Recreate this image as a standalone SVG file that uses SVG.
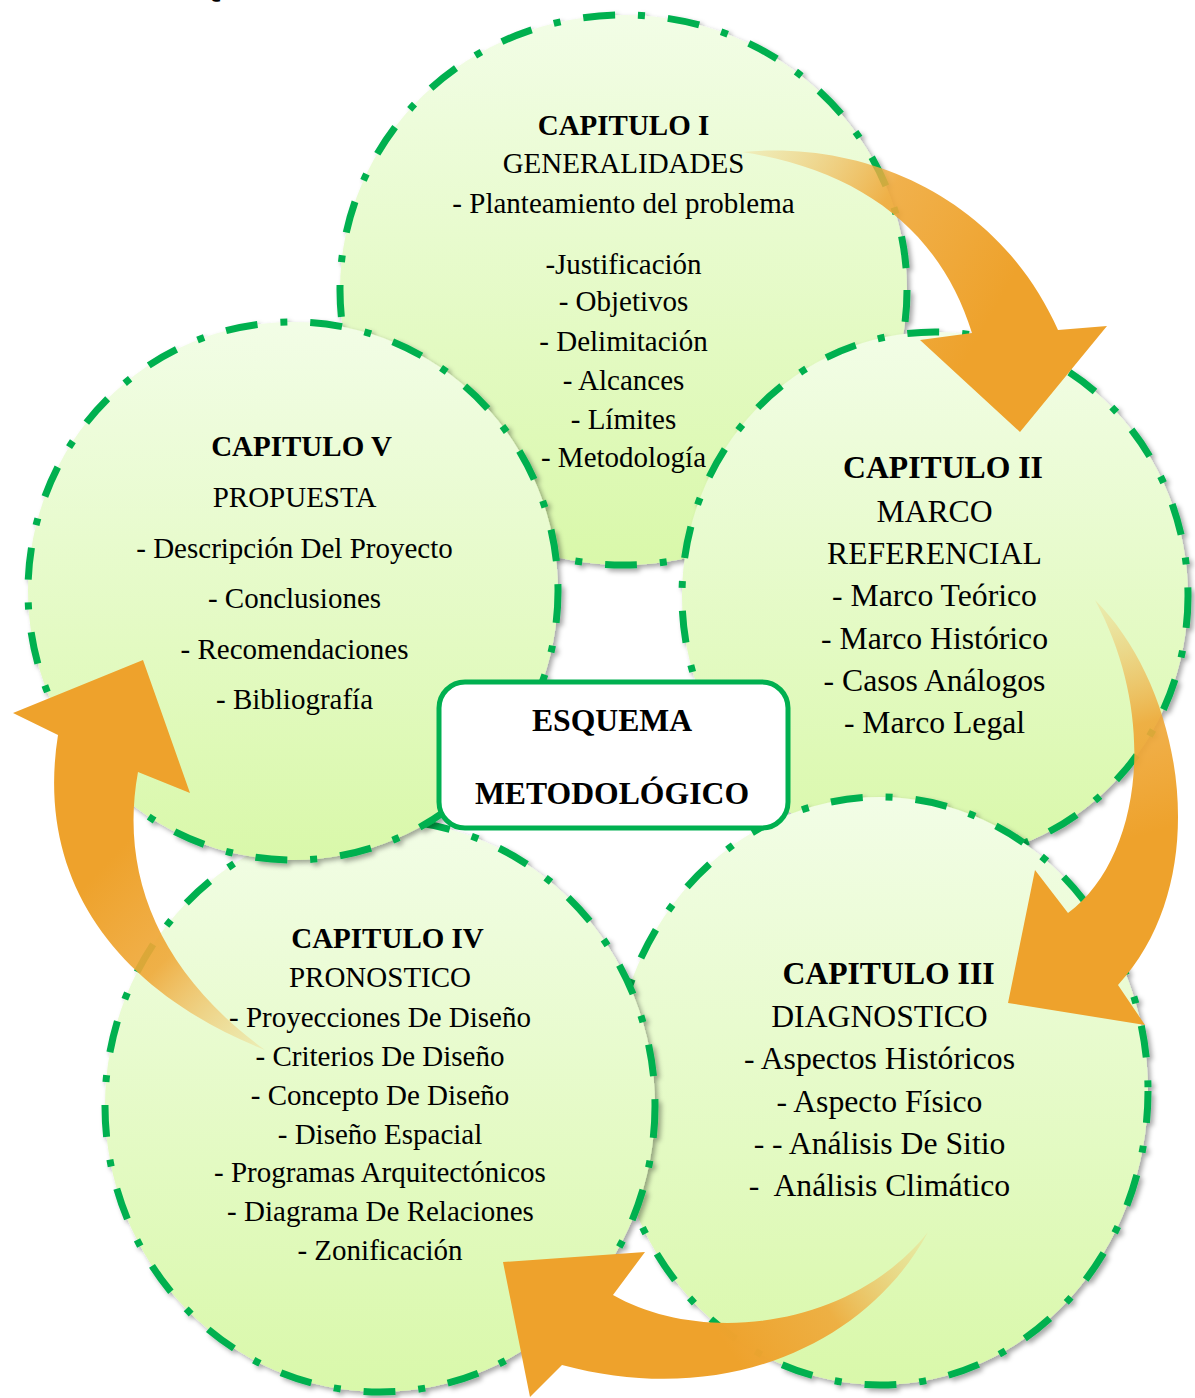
<svg xmlns="http://www.w3.org/2000/svg" width="1195" height="1398" viewBox="0 0 1195 1398">
<style>
.circ{fill:url(#cg);stroke:#00B050;stroke-width:7;stroke-dasharray:32 23 7 23;filter:url(#sh)}
.t{font-family:"Liberation Serif","Times New Roman",serif;fill:#000;text-anchor:middle}
.s29{font-size:29px}
.s32{font-size:31.7px}
.b{font-weight:bold}
.box{fill:#fff;stroke:#00B050;stroke-width:5}
</style>
<defs>
<linearGradient id="cg" x1="0" y1="0" x2="0" y2="1">
<stop offset="0" stop-color="#F2FDE6"/>
<stop offset="1" stop-color="#D9F8AA"/>
</linearGradient>
<filter id="sh" x="-10%" y="-10%" width="120%" height="120%">
<feDropShadow dx="3" dy="3" stdDeviation="2.5" flood-color="#000" flood-opacity="0.35"/>
</filter>
<linearGradient id="a1" gradientUnits="userSpaceOnUse" x1="742" y1="152" x2="1000" y2="300">
<stop offset="0" stop-color="#F3CE7C" stop-opacity="0.3"/>
<stop offset="0.5" stop-color="#EFA838" stop-opacity="0.9"/>
<stop offset="1" stop-color="#EEA22C"/>
</linearGradient>
<linearGradient id="a2" gradientUnits="userSpaceOnUse" x1="1095" y1="600" x2="1160" y2="830">
<stop offset="0" stop-color="#F3CE7C" stop-opacity="0.3"/>
<stop offset="0.55" stop-color="#EFA838" stop-opacity="0.9"/>
<stop offset="1" stop-color="#EEA22C"/>
</linearGradient>
<linearGradient id="a3" gradientUnits="userSpaceOnUse" x1="928" y1="1232" x2="740" y2="1365">
<stop offset="0" stop-color="#F3CE7C" stop-opacity="0.3"/>
<stop offset="0.55" stop-color="#EFA838" stop-opacity="0.9"/>
<stop offset="1" stop-color="#EEA22C"/>
</linearGradient>
<linearGradient id="a4" gradientUnits="userSpaceOnUse" x1="265" y1="1050" x2="90" y2="880">
<stop offset="0" stop-color="#F3CE7C" stop-opacity="0.3"/>
<stop offset="0.55" stop-color="#EFA838" stop-opacity="0.9"/>
<stop offset="1" stop-color="#EEA22C"/>
</linearGradient>
</defs>
<rect width="1195" height="1398" fill="#fff"/>
<text class="t b" x="198" y="-3" style="text-anchor:start;font-size:30px">Q</text>

<g id="cap1">
<ellipse class="circ" cx="623.5" cy="290" rx="283.5" ry="275"/>
<text class="t s29 b" x="623.5" y="135">CAPITULO I</text>
<text class="t s29" x="623.5" y="173">GENERALIDADES</text>
<text class="t s29" x="623.5" y="213">- Planteamiento del problema</text>
<text class="t s29" x="623.5" y="274">-Justificación</text>
<text class="t s29" x="623.5" y="311">- Objetivos</text>
<text class="t s29" x="623.5" y="351">- Delimitación</text>
<text class="t s29" x="623.5" y="390">- Alcances</text>
<text class="t s29" x="623.5" y="429">- Límites</text>
<text class="t s29" x="623.5" y="467">- Metodología</text>
</g>

<g id="cap2">
<ellipse class="circ" cx="935" cy="596" rx="253" ry="264"/>
<text class="t s32 b" x="943" y="478">CAPITULO II</text>
<text class="t s32" x="934.5" y="522">MARCO</text>
<text class="t s32" x="934.5" y="564">REFERENCIAL</text>
<text class="t s32" x="934.5" y="606">- Marco Teórico</text>
<text class="t s32" x="934.5" y="649">- Marco Histórico</text>
<text class="t s32" x="934.5" y="691">- Casos Análogos</text>
<text class="t s32" x="934.5" y="733">- Marco Legal</text>
</g>

<g id="cap3">
<ellipse class="circ" cx="880" cy="1091" rx="268" ry="294"/>
<text class="t s32 b" x="888.5" y="984">CAPITULO III</text>
<text class="t s32" x="879.5" y="1027">DIAGNOSTICO</text>
<text class="t s32" x="879.5" y="1069">- Aspectos Históricos</text>
<text class="t s32" x="879.5" y="1112">- Aspecto Físico</text>
<text class="t s32" x="879.5" y="1154">- - Análisis De Sitio</text>
<text class="t s32" x="879.5" y="1196" xml:space="preserve">-  Análisis Climático</text>
</g>

<g id="cap4">
<ellipse class="circ" cx="380" cy="1106" rx="275" ry="286"/>
<text class="t s29 b" x="387.5" y="948">CAPITULO IV</text>
<text class="t s29" x="380" y="987">PRONOSTICO</text>
<text class="t s29" x="380" y="1027">- Proyecciones De Diseño</text>
<text class="t s29" x="380" y="1066">- Criterios De Diseño</text>
<text class="t s29" x="380" y="1105">- Concepto De Diseño</text>
<text class="t s29" x="380" y="1144">- Diseño Espacial</text>
<text class="t s29" x="380" y="1182">- Programas Arquitectónicos</text>
<text class="t s29" x="380.5" y="1221">- Diagrama De Relaciones</text>
<text class="t s29" x="380" y="1260">- Zonificación</text>
</g>

<g id="cap5">
<ellipse class="circ" cx="293" cy="591" rx="265" ry="269"/>
<text class="t s29 b" x="301.5" y="456">CAPITULO V</text>
<text class="t s29" x="294.5" y="507">PROPUESTA</text>
<text class="t s29" x="294.5" y="558">- Descripción Del Proyecto</text>
<text class="t s29" x="294.5" y="608">- Conclusiones</text>
<text class="t s29" x="294.5" y="659">- Recomendaciones</text>
<text class="t s29" x="294.5" y="709">- Bibliografía</text>
</g>

<g id="centro">
<rect class="box" x="439" y="682" width="349" height="146" rx="26"/>
<text class="t b" x="612" y="731" style="font-size:31.7px">ESQUEMA</text>
<text class="t b" x="612" y="804" style="font-size:31.7px">METODOLÓGICO</text>
</g>

<g id="connectors">
<path fill="url(#a1)" d="M742,152 C870,140 1000,200 1058,330 L1107,326 L1020,432 L920,340 L972,333 C940,230 860,170 742,152 Z"/>
<path fill="url(#a2)" d="M1095,600 C1185,690 1215,880 1118,985 L1145,1025 L1008,1003 L1035,870 L1068,913 C1140,860 1160,720 1095,600 Z"/>
<path fill="url(#a3)" d="M928,1232 C870,1340 730,1410 562,1365 L530,1397 L503,1262 L645,1252 L613,1295 C700,1345 850,1330 928,1232 Z"/>
<path fill="url(#a4)" d="M265,1050 C115,990 35,880 58,735 L13,713 L143,660 L190,793 L138,772 C120,870 155,970 265,1050 Z"/>
</g>
</svg>
